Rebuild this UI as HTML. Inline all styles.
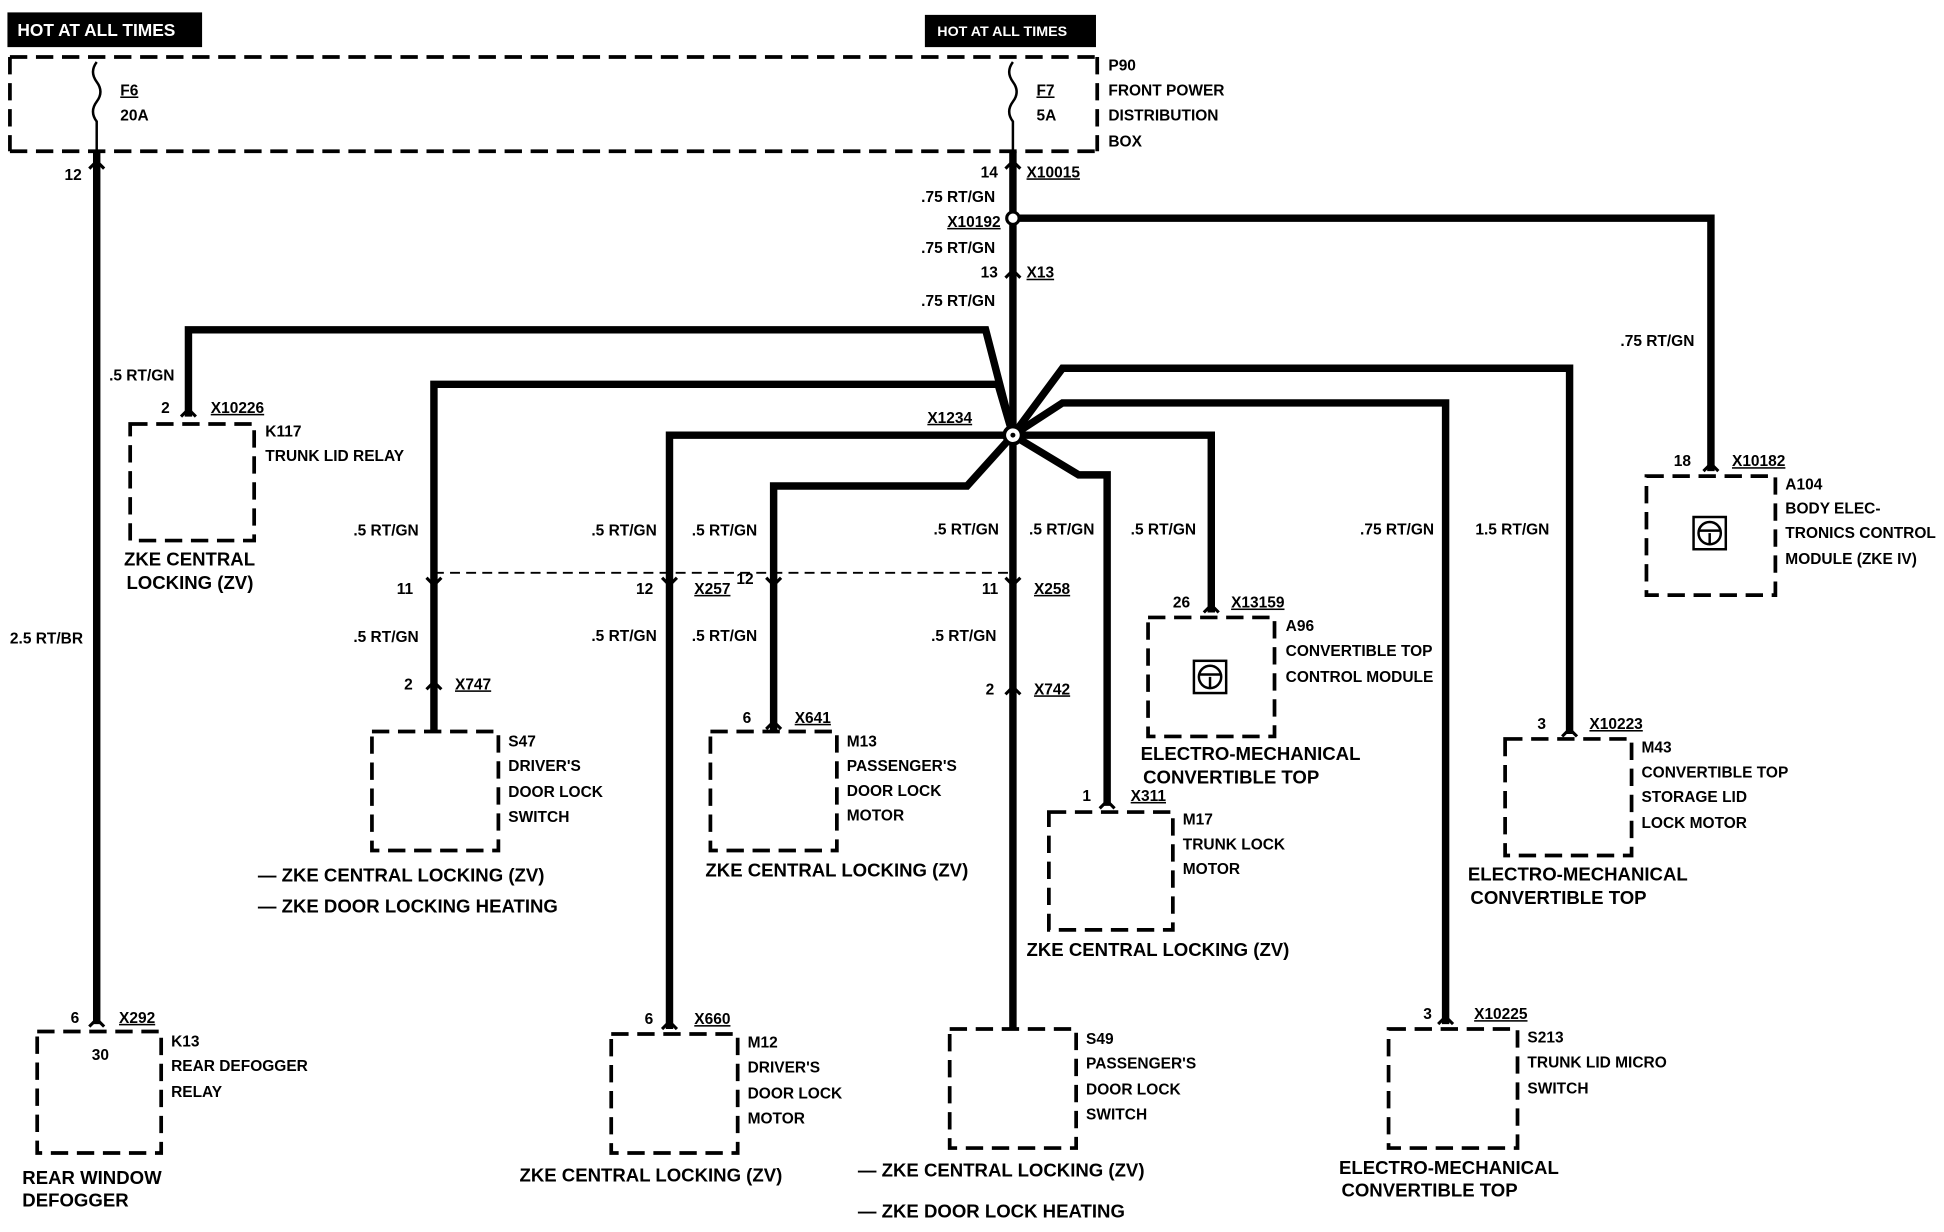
<!DOCTYPE html>
<html><head><meta charset="utf-8"><style>
html,body{margin:0;padding:0;background:#fff;}
svg{display:block}
text{font-family:"Liberation Sans",sans-serif;fill:#000;}
.s{font-size:12.5px;font-weight:bold;}
.b{font-size:15px;font-weight:bold;}
.u{text-decoration:underline;}
</style></head><body>
<svg width="1944" height="1232" viewBox="0 0 1568 993.7" preserveAspectRatio="none" xmlns="http://www.w3.org/2000/svg">
<rect width="1568" height="994" fill="#fff"/>
<!-- hot labels -->
<rect x="6" y="10" width="157" height="28" fill="#000"/>
<text x="14" y="29" font-size="14" font-weight="bold" style="fill:#fff">HOT AT ALL TIMES</text>
<rect x="746" y="12" width="138" height="26" fill="#000"/>
<text x="756" y="29" font-size="11.5" font-weight="bold" style="fill:#fff">HOT AT ALL TIMES</text>
<!-- P90 box -->
<g fill="none" stroke="#000" stroke-width="3" stroke-dasharray="14,7">
<path d="M8 46 H885 M8 122 H885 M8 46 V122 M885 46 V122"/>
<!-- component boxes -->
<rect x="105" y="342" width="100" height="94"/>
<rect x="30" y="832" width="100" height="98"/>
<rect x="300" y="590" width="102" height="96"/>
<rect x="573" y="590" width="102" height="96"/>
<rect x="493" y="834" width="102" height="96"/>
<rect x="766" y="830" width="102" height="96"/>
<rect x="846" y="655" width="100" height="95"/>
<rect x="926" y="498" width="102" height="96"/>
<rect x="1214" y="596" width="102" height="94"/>
<rect x="1120" y="830" width="104" height="96"/>
<rect x="1328" y="384" width="104" height="96"/>
</g>
<path d="M350 462 H817" stroke="#000" stroke-width="1.5" stroke-dasharray="8,5" fill="none"/>
<!-- fuses -->
<g fill="none" stroke="#000" stroke-width="2">
<path d="M78 50 q-6 8 0 16 q6 8 0 16 q-6 8 0 16 V122"/>
<path d="M817 50 q-6 8 0 16 q6 8 0 16 q-6 8 0 16 V122"/>
</g>
<!-- wires -->
<g fill="none" stroke="#000" stroke-width="6" stroke-linejoin="miter">
<path d="M78 122 V826"/>
<path d="M817 122 V830"/>
<path d="M817 176 H1380 V380"/>
<path d="M817 351 L795 266 H152 V336"/>
<path d="M817 351 L805 310 H350 V590"/>
<path d="M817 351 H540 V830"/>
<path d="M817 351 L780 392 H624 V590"/>
<path d="M817 351 L857 297 H1266 V592"/>
<path d="M817 351 L857 325 H1166 V826"/>
<path d="M817 351 L838 351 H977 V494"/>
<path d="M817 351 L870 383 H893 V650"/>
</g>
<circle cx="817" cy="176" r="5" fill="#fff" stroke="#000" stroke-width="2.5"/>
<circle cx="817" cy="351" r="7" fill="#fff" stroke="#000" stroke-width="3"/>
<circle cx="817" cy="351" r="2" fill="#000"/>
<!-- connector chevrons -->
<g fill="none" stroke="#000" stroke-width="2.5">
<path d="M72 136 l6 -6 l6 6 M811 136 l6 -6 l6 6 M811 224 l6 -6 l6 6 M146 336 l6 -6 l6 6 M1374 380 l6 -6 l6 6 M344 466 l6 6 l6 -6 M534 466 l6 6 l6 -6 M618 466 l6 6 l6 -6 M811 466 l6 6 l6 -6 M344 556 l6 -6 l6 6 M811 560 l6 -6 l6 6 M618 588 l6 -6 l6 6 M971 494 l6 -6 l6 6 M887 652 l6 -6 l6 6 M1260 594 l6 -6 l6 6 M72 828 l6 -6 l6 6 M534 830 l6 -6 l6 6 M1160 826 l6 -6 l6 6"/>
</g>
<!-- text labels -->
<g class="s">
<text x="97" y="77" class="u">F6</text><text x="97" y="97">20A</text>
<text x="836" y="77" class="u">F7</text><text x="836" y="97">5A</text>
<text x="894" y="57">P90</text><text x="894" y="77">FRONT POWER</text><text x="894" y="97">DISTRIBUTION</text><text x="894" y="118">BOX</text>
<text x="52" y="145">12</text>
<text x="791" y="143">14</text><text x="828" y="143" class="u">X10015</text>
<text x="743" y="163">.75 RT/GN</text>
<text x="764" y="183" class="u">X10192</text>
<text x="743" y="204">.75 RT/GN</text>
<text x="791" y="224">13</text><text x="828" y="224" class="u">X13</text>
<text x="743" y="247">.75 RT/GN</text>
<text x="1307" y="279">.75 RT/GN</text>
<text x="88" y="307">.5 RT/GN</text>
<text x="130" y="333">2</text><text x="170" y="333" class="u">X10226</text>
<text x="214" y="352">K117</text><text x="214" y="372">TRUNK LID RELAY</text>
<text x="748" y="341" class="u">X1234</text>
<text x="1350" y="376">18</text><text x="1397" y="376" class="u">X10182</text>
<text x="1440" y="395">A104</text><text x="1440" y="414">BODY ELEC-</text><text x="1440" y="434">TRONICS CONTROL</text><text x="1440" y="455">MODULE (ZKE IV)</text>
<text x="285" y="432">.5 RT/GN</text><text x="477" y="432">.5 RT/GN</text><text x="558" y="432">.5 RT/GN</text>
<text x="753" y="431">.5 RT/GN</text><text x="830" y="431">.5 RT/GN</text><text x="912" y="431">.5 RT/GN</text>
<text x="1097" y="431">.75 RT/GN</text><text x="1190" y="431">1.5 RT/GN</text>
<text x="320" y="479">11</text><text x="513" y="479">12</text><text x="560" y="479" class="u">X257</text><text x="594" y="471">12</text>
<text x="792" y="479">11</text><text x="834" y="479" class="u">X258</text>
<text x="8" y="519">2.5 RT/BR</text>
<text x="285" y="518">.5 RT/GN</text><text x="477" y="517">.5 RT/GN</text><text x="558" y="517">.5 RT/GN</text><text x="751" y="517">.5 RT/GN</text>
<text x="946" y="490">26</text><text x="993" y="490" class="u">X13159</text>
<text x="1037" y="509">A96</text><text x="1037" y="529">CONVERTIBLE TOP</text><text x="1037" y="550">CONTROL MODULE</text>
<text x="326" y="556">2</text><text x="367" y="556" class="u">X747</text>
<text x="795" y="560">2</text><text x="834" y="560" class="u">X742</text>
<text x="599" y="583">6</text><text x="641" y="583" class="u">X641</text>
<text x="1240" y="588">3</text><text x="1282" y="588" class="u">X10223</text>
<text x="410" y="602">S47</text><text x="410" y="622">DRIVER'S</text><text x="410" y="643">DOOR LOCK</text><text x="410" y="663">SWITCH</text>
<text x="683" y="602">M13</text><text x="683" y="622">PASSENGER'S</text><text x="683" y="642">DOOR LOCK</text><text x="683" y="662">MOTOR</text>
<text x="1324" y="607">M43</text><text x="1324" y="627">CONVERTIBLE TOP</text><text x="1324" y="647">STORAGE LID</text><text x="1324" y="668">LOCK MOTOR</text>
<text x="873" y="646">1</text><text x="912" y="646" class="u">X311</text>
<text x="954" y="665">M17</text><text x="954" y="685">TRUNK LOCK</text><text x="954" y="705">MOTOR</text>
<text x="57" y="825">6</text><text x="96" y="825" class="u">X292</text>
<text x="74" y="855">30</text>
<text x="138" y="844">K13</text><text x="138" y="864">REAR DEFOGGER</text><text x="138" y="885">RELAY</text>
<text x="520" y="826">6</text><text x="560" y="826" class="u">X660</text>
<text x="603" y="845">M12</text><text x="603" y="865">DRIVER'S</text><text x="603" y="886">DOOR LOCK</text><text x="603" y="906">MOTOR</text>
<text x="876" y="842">S49</text><text x="876" y="862">PASSENGER'S</text><text x="876" y="883">DOOR LOCK</text><text x="876" y="903">SWITCH</text>
<text x="1148" y="822">3</text><text x="1189" y="822" class="u">X10225</text>
<text x="1232" y="841">S213</text><text x="1232" y="861">TRUNK LID MICRO</text><text x="1232" y="882">SWITCH</text>
</g>
<g class="b">
<text x="100" y="456">ZKE CENTRAL</text><text x="102" y="475">LOCKING (ZV)</text>
<text x="920" y="613">ELECTRO-MECHANICAL</text><text x="922" y="632">CONVERTIBLE TOP</text>
<text x="1184" y="710">ELECTRO-MECHANICAL</text><text x="1186" y="729">CONVERTIBLE TOP</text>
<text x="208" y="711">— ZKE CENTRAL LOCKING (ZV)</text>
<text x="208" y="736">— ZKE DOOR LOCKING HEATING</text>
<text x="569" y="707">ZKE CENTRAL LOCKING (ZV)</text>
<text x="828" y="771">ZKE CENTRAL LOCKING (ZV)</text>
<text x="18" y="955">REAR WINDOW</text><text x="18" y="973">DEFOGGER</text>
<text x="419" y="953">ZKE CENTRAL LOCKING (ZV)</text>
<text x="692" y="949">— ZKE CENTRAL LOCKING (ZV)</text>
<text x="692" y="982">— ZKE DOOR LOCK HEATING</text>
<text x="1080" y="947">ELECTRO-MECHANICAL</text><text x="1082" y="965">CONVERTIBLE TOP</text>
</g>
<!-- module icons -->
<g fill="none" stroke="#000" stroke-width="2">
<rect x="963" y="533" width="26" height="26"/><circle cx="976" cy="546" r="9"/><path d="M967 544 H985 M976 546 V555"/>
<rect x="1366" y="417" width="26" height="26"/><circle cx="1379" cy="430" r="9"/><path d="M1370 428 H1388 M1379 430 V439"/>
</g>
</svg>
</body></html>
